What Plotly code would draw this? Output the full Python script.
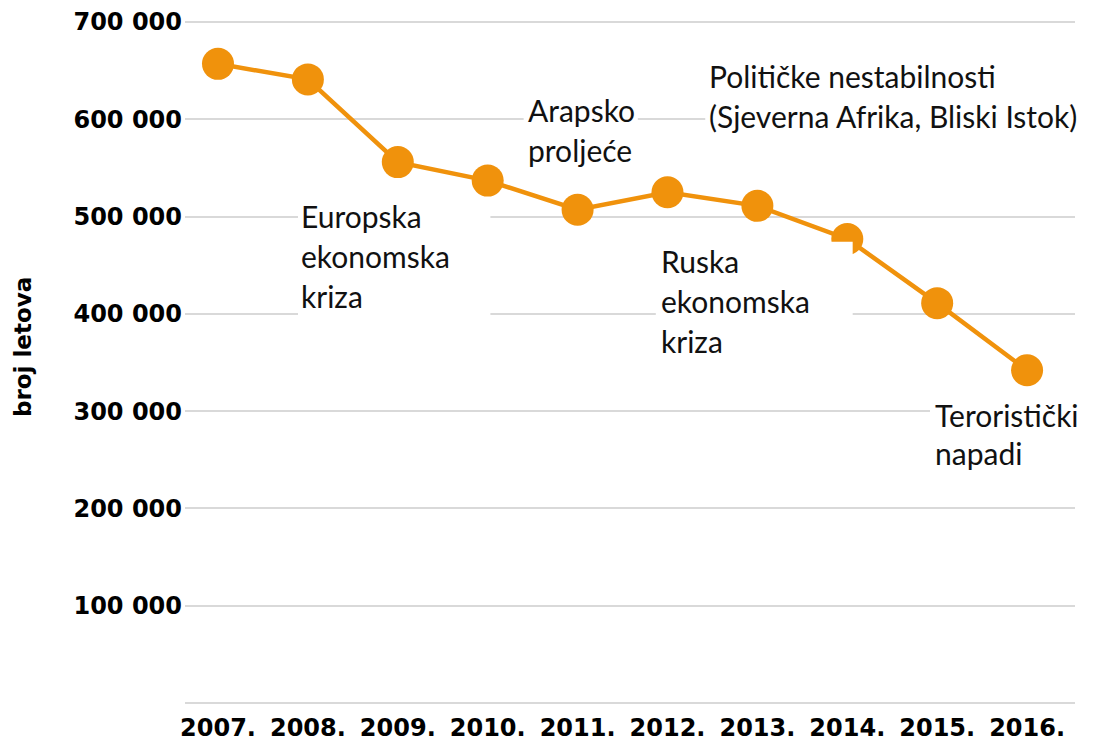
import plotly.graph_objects as go

# ---- data ----
years = [2007, 2008, 2009, 2010, 2011, 2012, 2013, 2014, 2015, 2016]
flights = [657000, 641000, 556000, 537000, 507000, 525000, 511000, 477000, 411000, 342000]
x_tick_labels = ["2007.", "2008.", "2009.", "2010.", "2011.", "2012.", "2013.", "2014.", "2015.", "2016."]
y_tick_values = [0, 100000, 200000, 300000, 400000, 500000, 600000, 700000]
y_tick_labels = ["", "100 000", "200 000", "300 000", "400 000", "500 000", "600 000", "700 000"]
y_title = "broj letova"

event_europe = ["Europska", "ekonomska", "kriza"]
event_arab = ["Arapsko", "proljeće"]
event_russia = ["Ruska", "ekonomska", "kriza"]
event_politics = ["Političke nestabilnosti", "(Sjeverna Afrika, Bliski Istok)"]
event_terror = ["Teroristički", "napadi"]

ORANGE = "#F0920C"
GRID = "#d9d9d9"

fig = go.Figure()
fig.add_trace(go.Scatter(
    x=years, y=flights, mode="lines+markers",
    line=dict(color=ORANGE, width=4.5),
    marker=dict(color=ORANGE, size=32),
    hoverinfo="skip", showlegend=False,
))

# white label boxes (above the data, as in the source)
boxes = [
    (2007.89, 2010.03, 385000, 517000),
    (2010.40, 2011.67, 550000, 625000),
    (2011.87, 2014.06, 347000, 474000),
    (2012.42, 2017.20, 578000, 662000),
    (2014.92, 2017.20, 229000, 313000),
]
for x0, x1, y0, y1 in boxes:
    fig.add_shape(type="rect", xref="x", yref="y", x0=x0, x1=x1, y0=y0, y1=y1,
                  fillcolor="white", line=dict(width=0), layer="above")

label_font = dict(family="Lato", size=30, color="#111111")

def add_block(lines, x, y_first, step=41000):
    for i, t in enumerate(lines):
        fig.add_annotation(x=x, y=y_first - i * step, xref="x", yref="y",
                           text=t, showarrow=False, xanchor="left", yanchor="middle",
                           font=label_font)

add_block(event_europe, 2007.90, 500200)
add_block(event_arab, 2010.426, 609100)
add_block(event_russia, 2011.905, 453900)
add_block(event_politics, 2012.44, 644100)
add_block(event_terror, 2014.95, 295600, 39000)

# y-axis title
fig.add_annotation(x=-0.1826, y=366400, xref="paper", yref="y", text=y_title,
                   textangle=-90, showarrow=False, xanchor="center", yanchor="middle",
                   font=dict(family="DejaVu Sans", size=23, color="black", weight="bold"))

tick_font = dict(family="DejaVu Sans", size=24, color="black", weight="bold")

fig.update_layout(
    width=1087, height=734,
    margin=dict(l=177, r=20, t=11, b=36),
    paper_bgcolor="white", plot_bgcolor="white",
    xaxis=dict(range=[2006.633, 2016.533], tickvals=years, ticktext=x_tick_labels,
               showgrid=False, zeroline=False, showline=False, ticks="",
               tickfont=tick_font, automargin=False, ticklabelstandoff=5),
    yaxis=dict(range=[-3083.7, 703083.7], tickvals=y_tick_values, ticktext=y_tick_labels,
               showgrid=True, gridcolor=GRID, gridwidth=2, zeroline=False, showline=False,
               ticks="", tickfont=tick_font, automargin=False, ticklabelstandoff=2),
)

fig.write_html("out.html")
